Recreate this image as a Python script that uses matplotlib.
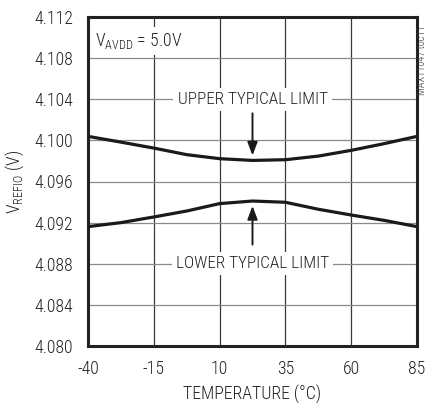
import matplotlib
matplotlib.use('Agg')
import matplotlib.pyplot as plt

plt.rcParams['font.family'] = ['Roboto Condensed', 'DejaVu Sans']
plt.rcParams['font.weight'] = 'light'
plt.rcParams['axes.labelweight'] = 'light'
plt.rcParams['mathtext.fontset'] = 'custom'
plt.rcParams['mathtext.rm'] = 'Roboto Condensed:light'

temp = [-40, -27.5, -15, -2.5, 10, 22.5, 35, 47.5, 60, 72.5, 85]
upper = [4.10039, 4.09983, 4.09925, 4.09861, 4.09822, 4.09805, 4.09812, 4.09847, 4.09903, 4.09968, 4.10039]
lower = [4.09161, 4.09200, 4.09255, 4.09313, 4.09385, 4.09410, 4.09398, 4.09330, 4.09274, 4.09222, 4.09161]
xticks = [-40, -15, 10, 35, 60, 85]
yticks = [4.080, 4.084, 4.088, 4.092, 4.096, 4.100, 4.104, 4.108, 4.112]

fig = plt.figure(figsize=(4.28, 4.03), dpi=100)
ax = fig.add_axes([88 / 428, 1 - 346 / 403, 329 / 428, 329 / 403])

for x in xticks[1:-1]:
    ax.axvline(x, color='#3a3a3a', lw=0.9, zorder=1)
for y in yticks[1:-1]:
    ax.axhline(y, color='#8a8a8a', lw=0.9, zorder=1)

ax.plot(temp, upper, color='#1a1a1a', lw=2.3, zorder=3)
ax.plot(temp, lower, color='#1a1a1a', lw=2.3, zorder=3)

ax.set_xlim(-40, 85)
ax.set_ylim(4.080, 4.112)
ax.set_xticks(xticks)
ax.set_yticks(yticks)
ax.set_xticklabels([str(t) for t in xticks])
ax.set_yticklabels(['%.3f' % t for t in yticks])
ax.tick_params(length=0, labelsize=12.8, colors='#222222')
ax.tick_params(axis='x', pad=10)
ax.tick_params(axis='y', pad=11)
for s in ax.spines.values():
    s.set_linewidth(2.2)
    s.set_color('#222222')

ax.set_xlabel('TEMPERATURE (°C)', fontsize=12.8, color='#222222', labelpad=5)
ax.set_ylabel('V$_{\\mathrm{REFIO}}$ (V)', fontsize=12.8, color='#222222', labelpad=6)

box = dict(facecolor='white', edgecolor='none', pad=3)
ax.text(-37.3, 4.1097, 'V$_{\\mathrm{AVDD}}$ = 5.0V', fontsize=12.8, color='#222222',
        va='center', ha='left', bbox=box, zorder=4)
ax.text(22.5, 4.104, 'UPPER TYPICAL LIMIT', fontsize=12.3, color='#222222',
        ha='center', va='center', bbox=box, zorder=4)
ax.text(22.5, 4.088, 'LOWER TYPICAL LIMIT', fontsize=12.3, color='#222222',
        ha='center', va='center', bbox=box, zorder=4)

ax.annotate('', xy=(22.5, 4.09825), xytext=(22.5, 4.1029),
            arrowprops=dict(arrowstyle='-|>,head_length=0.8,head_width=0.3', color='#1a1a1a', lw=1.4),
            zorder=5)
ax.annotate('', xy=(22.5, 4.0939), xytext=(22.5, 4.0896),
            arrowprops=dict(arrowstyle='-|>,head_length=0.8,head_width=0.3', color='#1a1a1a', lw=1.4),
            zorder=5)

fig.text(422 / 428, 1 - 60 / 403, 'MAX11047 toc11', rotation=90, fontsize=7.5,
         color='#333333', ha='center', va='center')

fig.savefig('out.png', dpi=100)
